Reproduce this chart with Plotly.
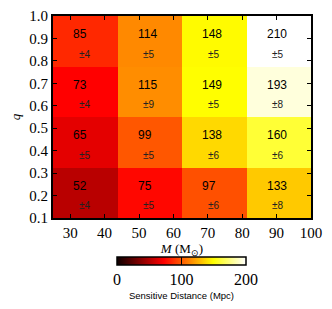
import plotly.graph_objects as go

# Data
mass_edges = [25, 43.75, 62.5, 81.25, 100]
q_edges = [0.1, 0.325, 0.55, 0.775, 1.0]
# rows: q bins bottom -> top; columns: mass bins left -> right
distance = [
    [52, 75, 97, 133],
    [65, 99, 138, 160],
    [73, 115, 149, 193],
    [85, 114, 148, 210],
]
errors = [
    [4, 5, 6, 8],
    [5, 5, 6, 6],
    [4, 9, 5, 8],
    [4, 5, 5, 5],
]
x_ticks = [30, 40, 50, 60, 70, 80, 90, 100]
y_ticks = [0.1, 0.2, 0.3, 0.4, 0.5, 0.6, 0.7, 0.8, 0.9, 1.0]
cbar_ticks = [0, 100, 200]

hot = [
    [0.0, "rgb(11,0,0)"],
    [0.365079, "rgb(255,0,0)"],
    [0.746032, "rgb(255,255,0)"],
    [1.0, "rgb(255,255,255)"],
]

serif = "Liberation Serif"
sans = "Liberation Sans"

# page has an 8px body margin; figure is placed at (8, 8)
OFF = 8
W, H = 332 - OFF, 309 - OFF
ml, mt = 53 - OFF, 16 - OFF
pw, ph = 258, 202
mr = W - ml - pw
mb = H - mt - ph

cb_top_page = 256.5
cb_cx_page = 181.5

fig = go.Figure()
fig.add_trace(go.Heatmap(
    x=mass_edges, y=q_edges, z=distance,
    colorscale=hot, zmin=0, zmax=200,
    showscale=True,
    colorbar=dict(
        orientation="h",
        x=(cb_cx_page - OFF - ml) / pw, xanchor="center",
        y=((mt + ph) - (cb_top_page - OFF)) / ph, yanchor="top",
        len=129, lenmode="pixels",
        thickness=8, thicknessmode="pixels",
        outlinewidth=1.5, outlinecolor="black",
        tickvals=cbar_ticks, ticks="inside", ticklen=8, tickcolor="black",
        tickfont=dict(family=serif, size=16, color="black"),
        title=dict(text="Sensitive Distance (Mpc)", side="bottom",
                   font=dict(family=sans, size=9.5, color="black")),
        xpad=0, ypad=0,
    ),
    hoverinfo="skip",
))

annotations = []
for i in range(4):
    for j in range(4):
        left = mass_edges[j]
        yc = (q_edges[i] + q_edges[i + 1]) / 2
        annotations.append(dict(
            x=left + 5.3, y=yc + 0.032, xref="x", yref="y",
            text=str(distance[i][j]), showarrow=False, xanchor="left", yanchor="middle",
            font=dict(family=sans, size=12, color="black"),
        ))
        annotations.append(dict(
            x=left + 6.9, y=yc - 0.057, xref="x", yref="y",
            text="±" + str(errors[i][j]), showarrow=False, xanchor="left", yanchor="middle",
            font=dict(family=sans, size=10, color="#222"),
        ))

fig.update_layout(
    width=W, height=H,
    margin=dict(l=ml, r=mr, t=mt, b=mb, pad=0, autoexpand=False),
    paper_bgcolor="white", plot_bgcolor="white",
    annotations=annotations,
    xaxis=dict(
        range=[25, 100], tickvals=x_ticks, ticks="inside", ticklen=4, tickwidth=1,
        tickcolor="black", showline=True, linecolor="black", linewidth=2, mirror="ticks",
        showgrid=False, zeroline=False, ticklabeloverflow="allow",
        tickfont=dict(family=serif, size=15, color="black"),
        title=dict(text="<i>M</i> (M<sub>⊙</sub>)", standoff=2,
                   font=dict(family=serif, size=13, color="black")),
    ),
    yaxis=dict(
        range=[0.1, 1.0], tickvals=y_ticks, tickformat=".1f", ticks="inside", ticklen=4,
        tickwidth=1, tickcolor="black", showline=True, linecolor="black", linewidth=2,
        mirror="ticks", showgrid=False, zeroline=False,
        tickfont=dict(family=serif, size=15, color="black"),
        title=dict(text="<i>q</i>", standoff=8,
                   font=dict(family=serif, size=13, color="black")),
    ),
)

fig.write_html("out.html")
